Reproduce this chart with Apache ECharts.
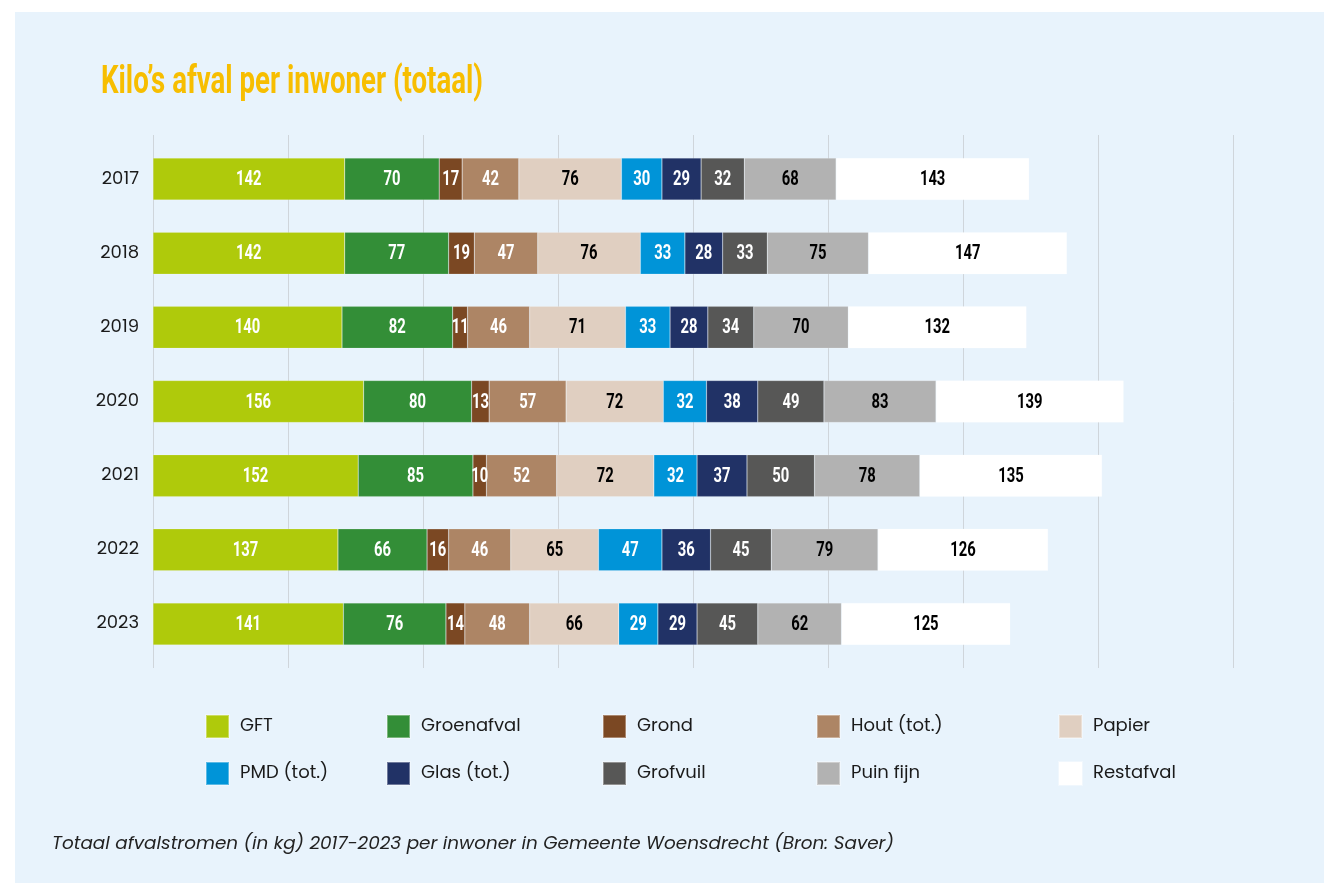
<!DOCTYPE html>
<html>
<head>
<meta charset="utf-8">
<script src="https://cdn.jsdelivr.net/npm/echarts@6/dist/echarts.min.js"></script>
<style>
    html, body { margin: 0; padding: 0; background: #fff; }
    #panel { position: absolute; left: 15px; top: 12px; width: 1309px; height: 871px; background: #E8F3FC; }
    #chart { position: absolute; left: 0; top: 0; width: 1324px; height: 883px; }
</style>
</head>
<body>
<div id="panel"></div>
<div id="chart"></div>
<script>
    // jaren
    var years = ['2017', '2018', '2019', '2020', '2021', '2022', '2023'];

    // kilo's per inwoner per stroom
    var gft = [142, 142, 140, 156, 152, 137, 141];
    var groenafval = [70, 77, 82, 80, 85, 66, 76];
    var grond = [17, 19, 11, 13, 10, 16, 14];
    var hout = [42, 47, 46, 57, 52, 46, 48];
    var papier = [76, 76, 71, 72, 72, 65, 66];
    var pmd = [30, 33, 33, 32, 32, 47, 29];
    var glas = [29, 28, 28, 38, 37, 36, 29];
    var grofvuil = [32, 33, 34, 49, 50, 45, 45];
    var puinFijn = [68, 75, 70, 83, 78, 79, 62];
    var restafval = [143, 147, 132, 139, 135, 126, 125];

    var body = "Poppins, Inter, 'Noto Sans', sans-serif";
    var titleText = 'Kilo\u2019s afval per inwoner (totaal)';

    var streams = [
        {name: 'GFT', data: gft, color: '#AFCA0B', label: '#fff'},
        {name: 'Groenafval', data: groenafval, color: '#338E37', label: '#fff'},
        {name: 'Grond', data: grond, color: '#7B4823', label: '#fff'},
        {name: 'Hout (tot.)', data: hout, color: '#AD8565', label: '#fff'},
        {name: 'Papier', data: papier, color: '#E0CFC1', label: '#000'},
        {name: 'PMD (tot.)', data: pmd, color: '#0094D8', label: '#fff'},
        {name: 'Glas (tot.)', data: glas, color: '#213266', label: '#fff'},
        {name: 'Grofvuil', data: grofvuil, color: '#575756', label: '#fff'},
        {name: 'Puin fijn', data: puinFijn, color: '#B2B2B2', label: '#000'},
        {name: 'Restafval', data: restafval, color: '#FFFFFF', label: '#000'}
    ];

    // smalle letters nabootsen: breedte meten en horizontaal schalen
    var ctx = document.createElement('canvas').getContext('2d');
    ctx.font = 'bold 39px Roboto';
    var titleScale = 382 / ctx.measureText(titleText).width;

    var series = streams.map(function (s) {
        return {
            name: s.name,
            type: 'bar',
            stack: 'totaal',
            barWidth: 42,
            data: s.data,
            itemStyle: {color: s.color, borderColor: 'rgba(255,255,255,0.35)', borderWidth: 0.5},
            emphasis: {disabled: true}
        }
    });

    // waardes in de balken (smal geschaald)
    series.push({
        type: 'custom',
        silent: true,
        z: 10,
        data: years.map(function (y, i) { return [0, i] }),
        renderItem: function (params, api) {
            var i = params.dataIndex;
            var cum = 0;
            var children = [];
            streams.forEach(function (s) {
                var v = s.data[i];
                var p = api.coord([cum + v / 2, i]);
                cum += v;
                children.push({
                    type: 'text',
                    x: p[0],
                    y: p[1] + 1,
                    scaleX: 0.74,
                    style: {
                        text: String(v),
                        fill: s.label,
                        fontFamily: 'Roboto',
                        fontWeight: 'bold',
                        fontSize: 20,
                        align: 'center',
                        verticalAlign: 'middle'
                    }
                })
            });
            return {type: 'group', children: children}
        }
    });

    // legenda in 5 kolommen van 2
    var legendCols = [
        {left: 205, names: ['GFT', 'PMD (tot.)']},
        {left: 386, names: ['Groenafval', 'Glas (tot.)']},
        {left: 602, names: ['Grond', 'Grofvuil']},
        {left: 816, names: ['Hout (tot.)', 'Puin fijn']},
        {left: 1058, names: ['Papier', 'Restafval']}
    ];
    var legends = legendCols.map(function (c) {
        return {
            left: c.left,
            top: 714,
            padding: 0,
            orient: 'vertical',
            itemWidth: 23,
            itemHeight: 23,
            itemGap: 22,
            icon: 'rect',
            selectedMode: false,
            data: c.names,
            textStyle: {color: '#1a1a1a', fontFamily: body, fontSize: 18, padding: [0, 0, 0, 6]}
        }
    });

    var chart = echarts.init(document.getElementById('chart'));
    chart.setOption({
        animation: false,
        legend: legends,
        grid: [
            {left: 153, width: 1080, top: 142, height: 519},
            {left: 153, width: 1080, top: 135, height: 533}
        ],
        xAxis: [
            {
                type: 'value', gridIndex: 0, min: 0, max: 800, interval: 100,
                axisLabel: {show: false}, axisLine: {show: false}, axisTick: {show: false},
                splitLine: {show: false}
            },
            {
                type: 'value', gridIndex: 1, min: 0, max: 800, interval: 100,
                axisLabel: {show: false}, axisLine: {show: false}, axisTick: {show: false},
                splitLine: {show: true, lineStyle: {color: '#CFD5DB', width: 1}}
            }
        ],
        yAxis: [
            {
                type: 'category', gridIndex: 0, data: years, inverse: true,
                axisLine: {show: false}, axisTick: {show: false},
                axisLabel: {color: '#1a1a1a', fontFamily: body, fontSize: 18, margin: 14}
            },
            {
                type: 'category', gridIndex: 1, data: [],
                show: false
            }
        ],
        graphic: [
            {
                type: 'text',
                x: 101,
                y: 103,
                scaleX: titleScale,
                style: {
                    text: titleText,
                    fill: '#F7BE00',
                    fontFamily: 'Roboto',
                    fontWeight: 'bold',
                    fontSize: 39,
                    verticalAlign: 'bottom'
                }
            },
            {
                type: 'text',
                left: 52,
                top: 835,
                style: {
                    text: 'Totaal afvalstromen (in kg) 2017-2023 per inwoner in Gemeente Woensdrecht (Bron: Saver)',
                    fill: '#222',
                    font: 'italic 18.4px ' + body
                }
            }
        ],
        series: series
    });
</script>
</body>
</html>
